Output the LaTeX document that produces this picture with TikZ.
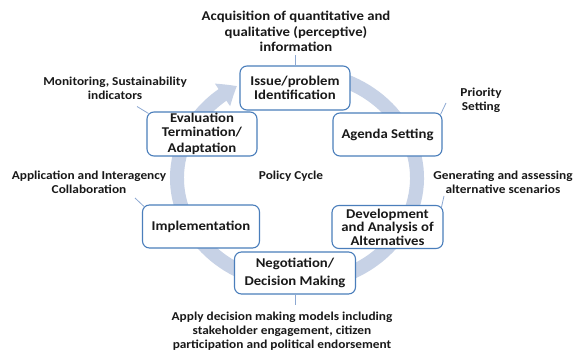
\documentclass[tikz,border=0pt]{standalone}
\usepackage{fontspec}
\setmainfont{Carlito}[FakeStretch=1.1]
\usetikzlibrary{arrows.meta,bending}
\definecolor{boxblue}{RGB}{74,126,187}
\definecolor{ringcol}{RGB}{199,210,230}
\definecolor{linkcol}{RGB}{140,168,210}
\definecolor{txtcol}{RGB}{25,25,25}
\begin{document}
\begin{tikzpicture}[x=1pt,y=1pt,
  stagebox/.style={draw=boxblue, line width=1.1pt, rounded corners=7pt, fill=white, align=center, text=txtcol, font=\bfseries\fontsize{13.4}{13.5}\selectfont, inner sep=0pt},
  note/.style={align=center, text=txtcol, font=\bfseries\fontsize{12.1}{14}\selectfont, inner sep=0pt},
  bignote/.style={note, font=\bfseries\fontsize{13.4}{15.5}\selectfont},
  link/.style={draw=linkcol, line width=0.8pt}]
\useasboundingbox (0,0) rectangle (576,-353);
\fill[white] (0,0) rectangle (576,-353);
% ring arrow
\draw[ringcol, line width=14pt, -{Triangle[width=26pt,length=17pt,bend]}]
  ([shift={(75:120 and 106)}]297,-178) arc[start angle=75, end angle=-240, x radius=120, y radius=106];
% stages
\node[stagebox, minimum width=110pt, minimum height=44pt] (issue) at (295,-88) {Issue/problem\\Identification};
\node[stagebox, minimum width=110pt, minimum height=44pt] (eval) at (202,-134) {Evaluation\\Termination/\\[3pt]Adaptation};
\node[stagebox, minimum width=109pt, minimum height=43pt] (agenda) at (387.5,-134.5) {Agenda Setting};
\node[stagebox, minimum width=117pt, minimum height=43pt] (impl) at (201,-226.5) {Implementation};
\node[stagebox, minimum width=111pt, minimum height=43pt] (dev) at (387.5,-227) {Development\\and Analysis of\\Alternatives};
\node[stagebox, minimum width=121pt, minimum height=42pt] (neg) at (295,-273) {Negotiation/\\[5pt]Decision Making};
% annotations
\node[bignote] (acq) at (296,-31.5) {Acquisition of quantitative and\\qualitative (perceptive)\\information};
\node[note] (mon) at (115,-88) {Monitoring, Sustainability\\indicators};
\node[note] (pri) at (481,-100) {Priority\\Setting};
\node[note] (app) at (89,-182.5) {Application and Interagency\\Collaboration};
\node[note] (pc) at (291,-176) {Policy Cycle};
\node[note] (gen) at (503,-182) {Generating and assessing\\alternative scenarios};
\node[note] (apply) at (282,-331) {Apply decision making models including\\stakeholder engagement, citizen\\participation and political endorsement};
% connector ends
\coordinate (acqend) at (295,-55);
\coordinate (monend) at (137,-106.5);
\coordinate (priend) at (446,-103);
\coordinate (append) at (135,-198);
\coordinate (genend) at (444,-196);
\coordinate (applyend) at (295,-305);
\draw[link] (issue.north) -- (acqend);
\draw[link] ([shift={(2,-2)}]eval.north west) -- (monend);
\draw[link] ([shift={(-2,-2)}]agenda.north east) -- (priend);
\draw[link] ([shift={(2,-2)}]impl.north west) -- (append);
\draw[link] ([shift={(-2,-2)}]dev.north east) -- (genend);
\draw[link] (neg.south) -- (applyend);
\end{tikzpicture}
\end{document}
